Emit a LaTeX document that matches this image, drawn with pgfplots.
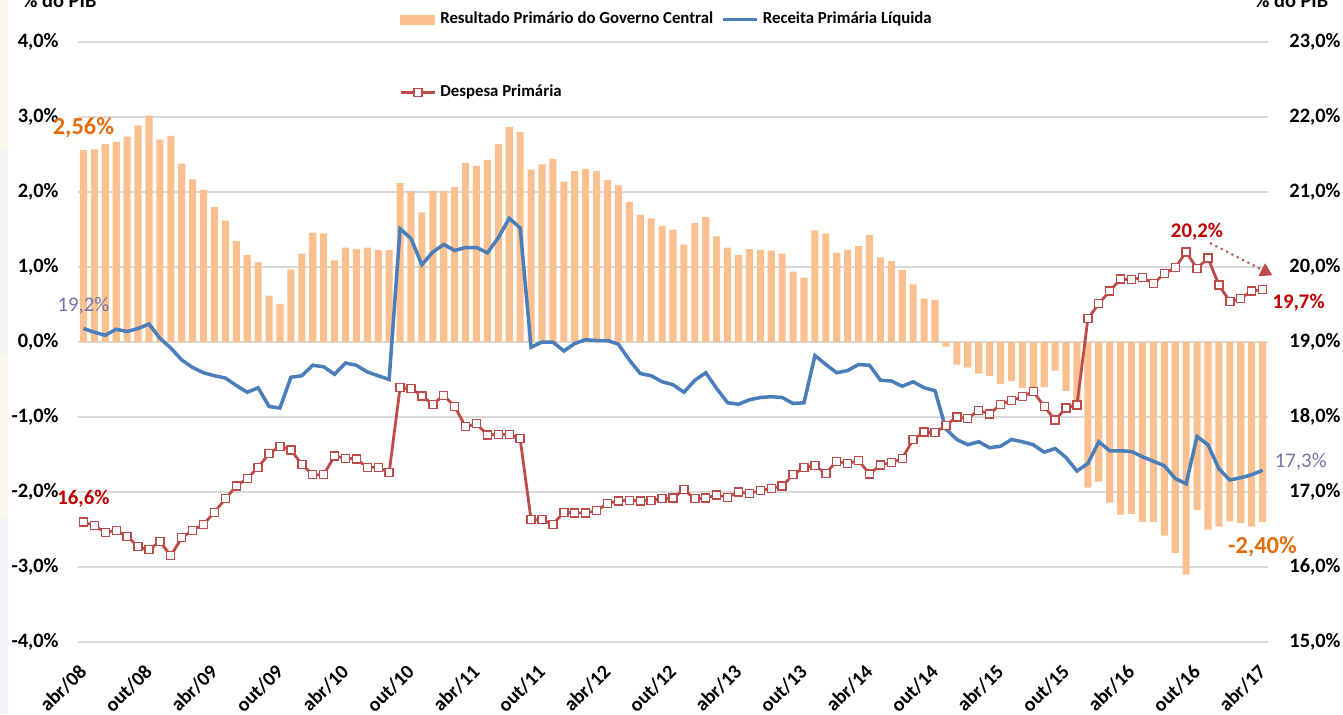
\documentclass[border=0pt]{standalone}
\usepackage{pgfplots}
\pgfplotsset{compat=1.18}
\usepackage{pgfplotstable}
\usepackage{fontspec}
\setmainfont{Carlito}
\usetikzlibrary{arrows.meta}
\definecolor{barc}{HTML}{FAC090}
\definecolor{bluec}{HTML}{4A7EBB}
\definecolor{redc}{HTML}{BE4B48}
\definecolor{gridc}{HTML}{D9D9D9}
\definecolor{orangetxt}{HTML}{E46C0A}
\definecolor{redtxt}{HTML}{C00000}
\definecolor{purptxt}{HTML}{7373AA}
\definecolor{creamc}{HTML}{FBF8EA}
\definecolor{greenc}{HTML}{F1F5F0}
\definecolor{paleblc}{HTML}{F0F5FA}
\pgfplotstableread{
idx res rec desp
0 2.56 19.18 16.60
1 2.57 19.13 16.55
2 2.64 19.09 16.46
3 2.67 19.17 16.49
4 2.74 19.14 16.41
5 2.89 19.18 16.27
6 3.02 19.24 16.23
7 2.70 19.05 16.34
8 2.75 18.92 16.15
9 2.38 18.76 16.39
10 2.17 18.66 16.49
11 2.03 18.59 16.57
12 1.80 18.55 16.73
13 1.62 18.52 16.91
14 1.35 18.42 17.08
15 1.16 18.33 17.18
16 1.07 18.39 17.33
17 0.62 18.14 17.51
18 0.51 18.12 17.61
19 0.97 18.53 17.56
20 1.18 18.55 17.37
21 1.46 18.69 17.23
22 1.45 18.67 17.23
23 1.09 18.57 17.48
24 1.26 18.72 17.45
25 1.24 18.69 17.44
26 1.26 18.60 17.33
27 1.23 18.55 17.33
28 1.23 18.50 17.26
29 2.12 20.51 18.39
30 2.01 20.38 18.38
31 1.73 20.03 18.28
32 2.02 20.20 18.17
33 2.01 20.30 18.29
34 2.07 20.22 18.14
35 2.39 20.26 17.87
36 2.35 20.26 17.91
37 2.43 20.19 17.76
38 2.64 20.39 17.77
39 2.87 20.65 17.77
40 2.80 20.52 17.71
41 2.30 18.93 16.63
42 2.37 19.00 16.63
43 2.44 19.00 16.57
44 2.14 18.88 16.73
45 2.28 18.98 16.72
46 2.31 19.03 16.72
47 2.28 19.02 16.75
48 2.16 19.02 16.85
49 2.09 18.97 16.88
50 1.87 18.76 16.89
51 1.70 18.58 16.88
52 1.65 18.55 16.89
53 1.55 18.47 16.91
54 1.50 18.43 16.92
55 1.30 18.33 17.03
56 1.59 18.49 16.91
57 1.67 18.59 16.92
58 1.41 18.38 16.96
59 1.26 18.19 16.93
60 1.16 18.17 17.00
61 1.24 18.23 16.98
62 1.23 18.26 17.02
63 1.22 18.27 17.05
64 1.18 18.26 17.08
65 0.94 18.18 17.23
66 0.86 18.19 17.33
67 1.49 18.82 17.35
68 1.45 18.70 17.25
69 1.19 18.59 17.41
70 1.23 18.62 17.38
71 1.28 18.70 17.42
72 1.43 18.69 17.24
73 1.13 18.49 17.36
74 1.08 18.48 17.39
75 0.96 18.41 17.45
76 0.77 18.47 17.70
77 0.58 18.39 17.80
78 0.56 18.35 17.79
79 -0.06 17.84 17.89
80 -0.30 17.70 18.00
81 -0.34 17.63 17.98
82 -0.42 17.67 18.09
83 -0.45 17.59 18.04
84 -0.56 17.61 18.17
85 -0.52 17.70 18.22
86 -0.61 17.67 18.27
87 -0.64 17.63 18.34
88 -0.60 17.53 18.14
89 -0.38 17.58 17.96
90 -0.65 17.46 18.12
91 -0.87 17.28 18.16
92 -1.94 17.38 19.31
93 -1.86 17.67 19.51
94 -2.14 17.55 19.68
95 -2.30 17.55 19.84
96 -2.29 17.54 19.83
97 -2.40 17.47 19.86
98 -2.40 17.41 19.78
99 -2.58 17.35 19.91
100 -2.81 17.18 19.99
101 -3.10 17.11 20.20
102 -2.24 17.74 19.98
103 -2.50 17.63 20.12
104 -2.46 17.31 19.76
105 -2.39 17.16 19.54
106 -2.41 17.19 19.58
107 -2.46 17.23 19.68
108 -2.40 17.29 19.70
}\datatable
\begin{document}
\begin{tikzpicture}
\fill[creamc] (-39pt,246pt) rectangle (-35pt,321pt);
\fill[greenc] (-39pt,143.5pt) rectangle (-35pt,246pt);
\fill[creamc] (-39pt,62pt) rectangle (-35pt,143.5pt);
\fill[paleblc] (-39pt,-36pt) rectangle (-35pt,62pt);
\pgfplotsset{
  common/.style={
    width=595pt, height=300pt, scale only axis, at={(0,0)}, anchor=south west,
    xmin=-0.5, xmax=108.5,
    axis line style={draw=none}, major tick length=0pt,
    tick label style={font=\bfseries\fontsize{10.2}{12}\selectfont},
    clip=false,
  }
}
\begin{axis}[common,
  ymin=-4, ymax=4,
  xtick={0,6,...,108},
  xticklabels={abr/08,out/08,abr/09,out/09,abr/10,out/10,abr/11,out/11,abr/12,out/12,abr/13,out/13,abr/14,out/14,abr/15,out/15,abr/16,out/16,abr/17},
  xticklabel style={yshift=-13pt, rotate=45, anchor=east, inner sep=0pt, font=\bfseries\fontsize{10}{12}\selectfont},
  ytick={-4,-3,-2,-1,0,1,2,3,4},
  yticklabels={{-4,0\%},{-3,0\%},{-2,0\%},{-1,0\%},{0,0\%},{1,0\%},{2,0\%},{3,0\%},{4,0\%}},
  yticklabel style={anchor=east, inner sep=0pt, xshift=-9.5pt},
  ymajorgrids, grid style={gridc, line width=0.6pt},
]
\addplot[ybar, bar width=0.65, fill=barc, draw=none] table[x=idx, y=res] {\datatable};
\node[font=\bfseries\fontsize{12.2}{14}\selectfont, text=orangetxt] at (axis cs:0,2.855) {2,56\%};
\node[font=\bfseries\fontsize{12.2}{14}\selectfont, text=orangetxt] at (axis cs:108,-2.73) {-2,40\%};
\node[font=\bfseries\fontsize{10.2}{12}\selectfont, anchor=base] at (axis description cs:-0.0155,1.058) {\% do PIB};
\node[font=\bfseries\fontsize{10.2}{12}\selectfont, anchor=base] at (axis description cs:1.0197,1.058) {\% do PIB};
\end{axis}
\begin{axis}[common,
  ymin=15, ymax=23,
  axis x line=none, axis y line*=right,
  xtick=\empty,
  ytick={15,16,17,18,19,20,21,22,23},
  yticklabels={{15,0\%},{16,0\%},{17,0\%},{18,0\%},{19,0\%},{20,0\%},{21,0\%},{22,0\%},{23,0\%}},
  yticklabel style={anchor=west, inner sep=0pt, xshift=10.5pt},
  legend columns=2,
  legend cell align=left,
  legend style={draw=none, fill=none, inner sep=0pt, at={(axis description cs:0.2697,1.057)}, anchor=north west,
    font=\bfseries\fontsize{8.4}{10}\selectfont, row sep=25pt,
    /tikz/every even column/.append style={column sep=2pt}},
]
\addlegendimage{legend image code/.code={\fill[barc] (0pt,-2.2pt) rectangle (17pt,2.2pt);}}
\addlegendentry{Resultado Primário do Governo Central}
\addplot[bluec, line width=1.75pt, no markers] table[x=idx, y=rec] {\datatable};
\addlegendentry{Receita Primária Líquida}
\addplot[redc, line width=1.4pt, mark=square*, mark size=2pt, mark options={fill=white, draw=redc, line width=0.7pt}] table[x=idx, y=desp] {\datatable};
\addlegendentry{Despesa Primária}
\node[font=\fontsize{10.4}{12}\selectfont, text=purptxt] at (axis cs:0,19.49) {19,2\%};
\node[font=\bfseries\fontsize{10.4}{12}\selectfont, text=redtxt] at (axis cs:0,16.91) {16,6\%};
\node[font=\bfseries\fontsize{10.4}{12}\selectfont, text=redtxt] at (axis cs:102,20.466) {20,2\%};
\node[font=\bfseries\fontsize{10.4}{12}\selectfont, text=redtxt] at (axis cs:111.3,19.53) {19,7\%};
\node[font=\fontsize{10.4}{12}\selectfont, text=purptxt] at (axis cs:111.5,17.41) {17,3\%};
\draw[redc, line width=1pt, dotted, -{Triangle[length=6pt,width=7pt]}] (axis cs:103.2,20.32) -- (axis cs:108.9,19.89);
\end{axis}
\pgfresetboundingbox
\useasboundingbox (-39pt,-36pt) rectangle (632.5pt,321pt);
\end{tikzpicture}
\end{document}
